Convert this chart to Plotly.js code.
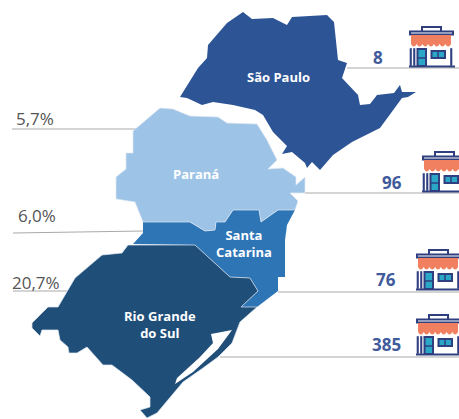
<!DOCTYPE html>
<html><head><meta charset="utf-8">
<script src="https://cdn.plot.ly/plotly-3.0.1.min.js"></script>
<style>html,body{margin:0;padding:0;background:#fff}#c{width:459px;height:419px}</style>
</head><body><div id="c"></div>
<script>
const saoPauloX=[180,198,207,208,227,243,252,273,287,292,327,334,338,347,342,358,360,370,377,394,400,402,416,408,402,380,352,333,320,312,307,305,292,282,287,273,263,255,233,213,202,187];
const saoPauloY=[97,68,58,45,23,12,19,18,25,17,15,22,60,63,78,95,105,104,95,93,85,92,92,97,98,128,142,155,170,162,168,163,152,154,146,132,115,110,105,102,105,98];
const paranaX=[160,173,190,218,227,257,267,277,268,283,296,296,305,305,290,298,295,278,261,259,233,225,216,215,205,190,143,135,116,116,126,126,133,133];
const paranaY=[108,109,116,117,123,124,140,160,169,168,177,185,177,193,193,201,210,210,222,210,210,222,222,230,231,222,222,202,199,177,169,153,153,131];
const santaCatarinaX=[143,190,205,215,216,225,233,259,261,278,295,287,285,285,278,278,257,241,258,250,230,195,133,143];
const santaCatarinaY=[222,222,231,230,222,222,210,210,222,210,210,225,240,277,277,291,307,307,291,278,277,245,244,233];
const rioGrandeX=[128,195,230,250,258,241,257,240,232,218,203,183,157,147,140,150,150,132,112,103,87,77,69,68,60,58,42,40,32,32,48,58,75,102,122];
const rioGrandeY=[245,245,277,278,291,307,307,322,343,357,368,382,413,418,410,407,397,380,365,365,347,353,353,347,340,330,330,336,328,323,307,307,278,255,253];
const lagoaX=[175,177,188,200,213,211,232,218,193];
const lagoaY=[384,378,368,357,343,334,330,349,372];

const stateNames=["São Paulo","Paraná","Santa<br>Catarina","Rio Grande<br>do Sul"];
const stateLabelX=[278,196,244,160];
const stateLabelY=[77,174,243,324];

const shareLabels=["5,7%","6,0%","20,7%"];
const shareX=[35,37,36];
const shareY=[118,215,282];
const shareLineX=[[12,137],[13,143],[13,68]];
const shareLineY=[[129,129],[233,231],[291,291]];

const storeCounts=["8","96","76","385"];
const countX=[378,392,386,386];
const countY=[57,182,279,344];
const countLineX=[[347,459],[305,459],[278,459],[220,459]];
const countLineY=[[68,68],[193,193],[292,292],[357,357]];
const iconX=[409,422,416,416];
const iconBase=[67,192,290,355];

const navy="#2f3f7f", salmon="#f0805f", cyan="#2aa7c6";
const FONT="'Open Sans', sans-serif";

function poly(x,y,color,edge){return {x:x.concat(x[0]),y:y.concat(y[0]),mode:"lines",fill:"toself",fillcolor:color,line:{width:edge?0.7:0,color:edge||color},hoverinfo:"skip",showlegend:false};}
function seg(x,y){return {x:x,y:y,mode:"lines",line:{width:1.2,color:"#a9a9a9"},hoverinfo:"skip",showlegend:false};}

const traces=[];
shareLineX.forEach((x,i)=>traces.push(seg(x,shareLineY[i])));
countLineX.forEach((x,i)=>traces.push(seg(x,countLineY[i])));
traces.push(poly(saoPauloX,saoPauloY,"#2d5596"));
traces.push(poly(santaCatarinaX,santaCatarinaY,"#2e75b6"));
traces.push(poly(rioGrandeX,rioGrandeY,"#1f4e79","#dfe8f2"));
traces.push(poly(paranaX,paranaY,"#9dc3e6","#dfe8f2"));
traces.push(poly(lagoaX,lagoaY,"#ffffff"));

const annotations=[];
function txt(t,x,y,size,color,weight){annotations.push({text:t,x:x,y:y,xref:"x",yref:"y",showarrow:false,xanchor:"center",yanchor:"middle",font:{family:FONT,size:size,color:color,weight:weight}});}
stateNames.forEach((t,i)=>txt(t,stateLabelX[i],stateLabelY[i],13,"#ffffff",700));
shareLabels.forEach((t,i)=>txt(t,shareX[i],shareY[i],17,"#555555",400));
storeCounts.forEach((t,i)=>txt(t,countX[i],countY[i],17,"#3f5b9b",700));

const shapes=[];
function rect(x0,y0,x1,y1,fill,lw){shapes.push({type:"rect",xref:"x",yref:"y",x0,y0,x1,y1,fillcolor:fill,line:{color:navy,width:lw},layer:"above"});}
function pathShape(d,fill,lw){shapes.push({type:"path",xref:"x",yref:"y",path:d,fillcolor:fill,line:{color:lw?navy:"rgba(0,0,0,0)",width:lw},layer:"above"});}
iconX.forEach((ix,i)=>{
  const b=iconBase[i], X=v=>ix+v, Y=v=>b-v;
  rect(X(13),Y(40),X(32),Y(33),"#ffffff",2);
  rect(X(1),Y(35.5),X(44),Y(32.5),"#ffffff",2);
  let d=`M${X(2)},${Y(32)} L${X(42)},${Y(32)} L${X(42)},${Y(23)}`;
  for(let k=6;k>=0;k--){ const a=X(2+40*(k+1)/7), c=X(2+40*k/7), m=(a+c)/2; d+=` Q${m},${Y(18)} ${c},${Y(23)}`; }
  pathShape(d+" Z",salmon,0);
  rect(X(1.5),Y(18),X(2),Y(2),navy,1.6);
  rect(X(5),Y(18),X(5.5),Y(2),navy,1.6);
  rect(X(42),Y(18),X(42.5),Y(2),navy,1.6);
  rect(X(8.5),Y(18),X(17),Y(1),cyan,2);
  shapes.push({type:"line",xref:"x",yref:"y",x0:X(8.5),x1:X(17),y0:Y(9),y1:Y(9),line:{color:navy,width:1.5},layer:"above"});
  rect(X(22.5),Y(16),X(36),Y(9),cyan,2);
  shapes.push({type:"line",xref:"x",yref:"y",x0:X(29),x1:X(29),y0:Y(16),y1:Y(9),line:{color:navy,width:1.5},layer:"above"});
  shapes.push({type:"line",xref:"x",yref:"y",x0:X(0),x1:X(46),y0:Y(0.5),y1:Y(0.5),line:{color:navy,width:2},layer:"above"});
});

Plotly.newPlot("c",traces,{
  width:459,height:419,margin:{l:0,r:0,t:0,b:0},
  paper_bgcolor:"#fff",plot_bgcolor:"#fff",showlegend:false,
  xaxis:{range:[0,459],visible:false,fixedrange:true},
  yaxis:{range:[419,0],visible:false,fixedrange:true},
  annotations:annotations,shapes:shapes
},{displayModeBar:false,staticPlot:true});
</script></body></html>
